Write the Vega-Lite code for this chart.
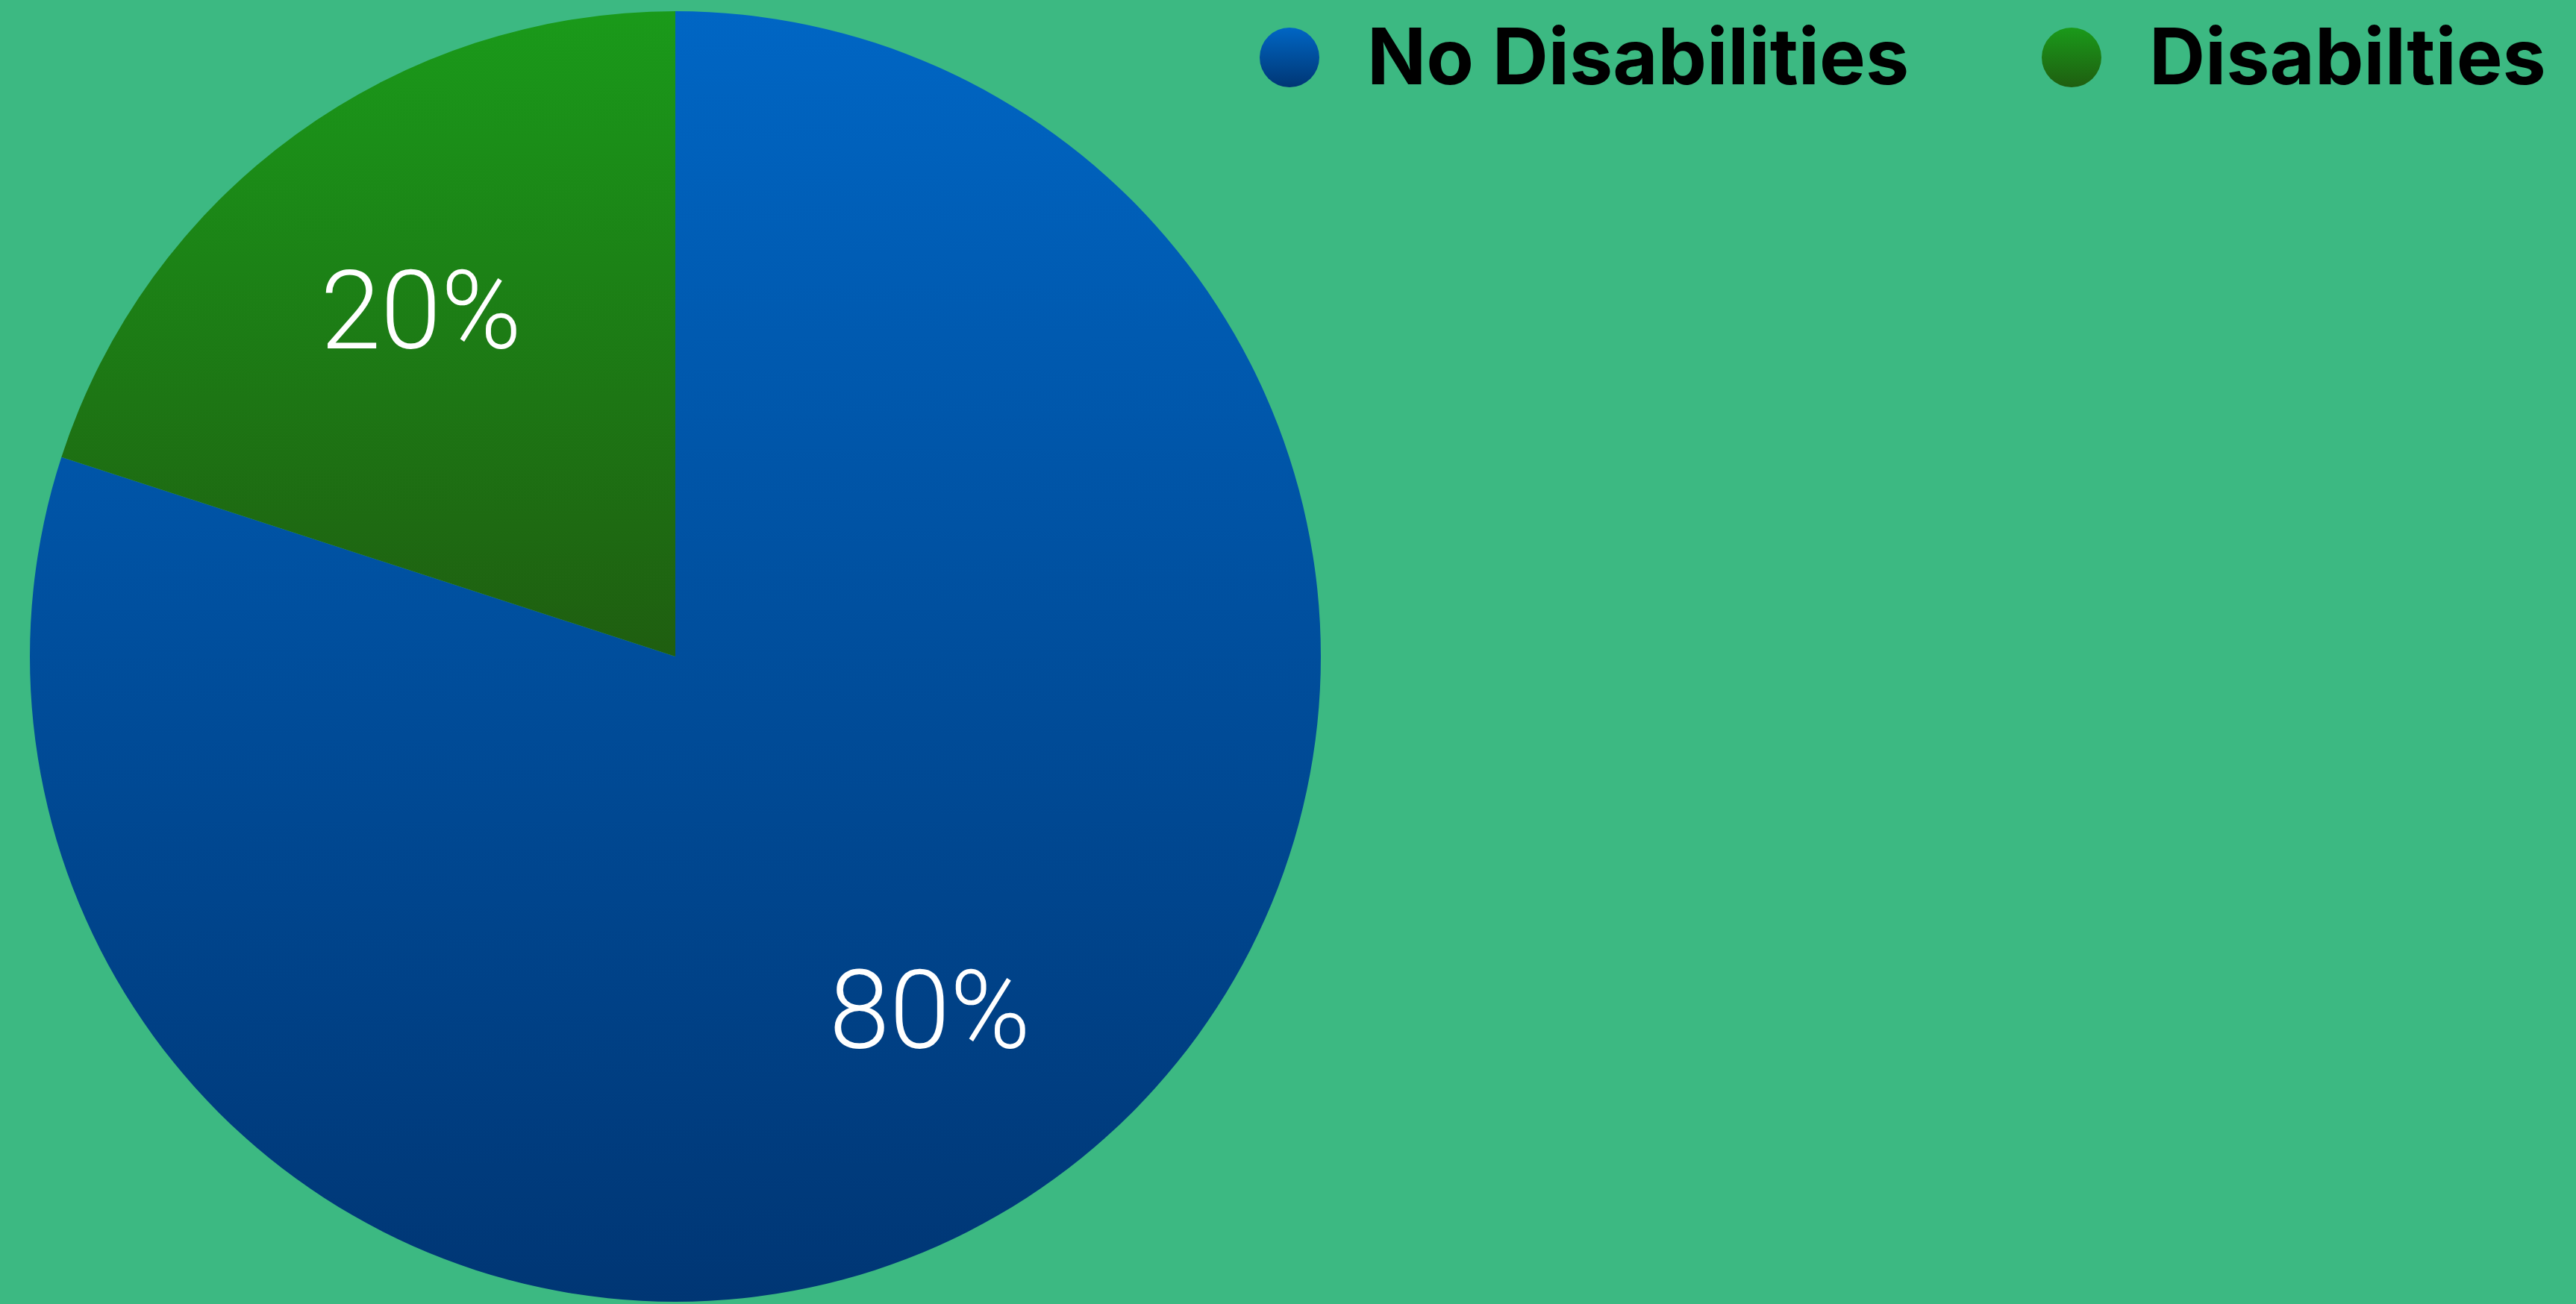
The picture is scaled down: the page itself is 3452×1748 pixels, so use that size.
{
  "$schema": "https://vega.github.io/schema/vega-lite/v6.json",
  "width": 1810,
  "height": 1736,
  "autosize": {"type": "none"},
  "padding": {"left": 0, "top": 12, "right": 1642, "bottom": 0},
  "background": "#3cb982",
  "config": {"view": {"stroke": null}},
  "data": {
    "values": [
      {"group": "No Disabilities", "value": 80, "label": "80%"},
      {"group": "Disabilties", "value": 20, "label": "20%"}
    ]
  },
  "encoding": {
    "theta": {"field": "value", "type": "quantitative", "stack": true},
    "order": {"field": "value", "type": "quantitative", "sort": "descending"}
  },
  "layer": [
    {
      "mark": {"type": "arc", "outerRadius": 865, "strokeWidth": 0},
      "encoding": {
        "color": {
          "field": "group",
          "type": "nominal",
          "sort": null,
          "scale": {
            "domain": ["No Disabilities", "Disabilties"],
            "range": [
              {"expr": "{gradient: 'linear', x1: 0, y1: 0, x2: 0, y2: 1, stops: [{offset: 0, color: '#0066c4'}, {offset: 1, color: '#003674'}]}"},
              {"expr": "{gradient: 'linear', x1: 0, y1: 0, x2: 0, y2: 1, stops: [{offset: 0, color: '#1a9a1a'}, {offset: 1, color: '#1f5e10'}]}"}
            ]
          },
          "legend": {
            "title": null,
            "orient": "none",
            "direction": "horizontal",
            "legendX": 1676,
            "legendY": 13,
            "symbolType": "circle",
            "symbolSize": 6400,
            "symbolStrokeWidth": 0,
            "symbolOpacity": 1,
            "labelFont": "Inter",
            "labelFontWeight": "bold",
            "labelFontSize": 104,
            "labelColor": "#000000",
            "labelOffset": 52,
            "labelLimit": 2000,
            "columnPadding": 165,
            "padding": 0,
            "encode": {"labels": {"update": {"dy": {"value": 5}}}}
          }
        }
      }
    },
    {
      "mark": {
        "type": "text",
        "radius": 580,
        "font": "Roboto",
        "fontWeight": 300,
        "fontSize": 146,
        "align": "center",
        "baseline": "middle",
        "dy": 12,
        "color": "#ffffff"
      },
      "encoding": {
        "text": {"field": "label", "type": "nominal"}
      }
    }
  ]
}
